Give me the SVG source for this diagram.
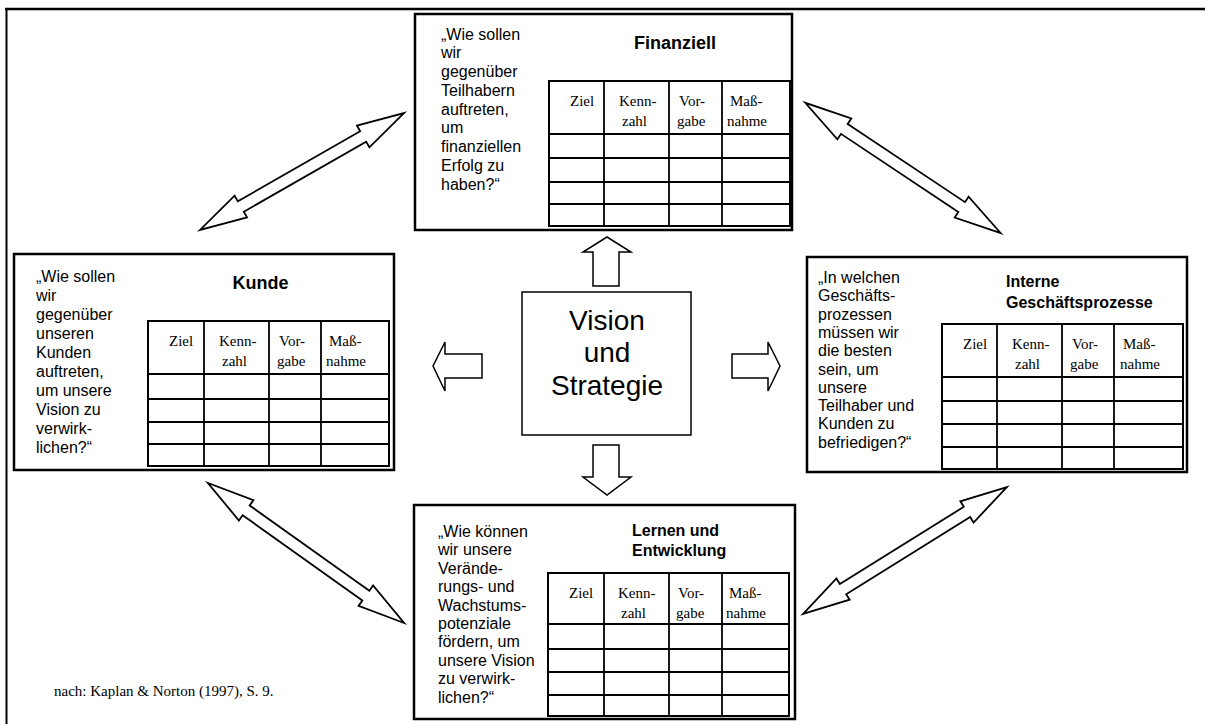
<svg xmlns="http://www.w3.org/2000/svg" width="1205" height="724" viewBox="0 0 1205 724">
<style>
.bg{fill:#fff}
.frame{stroke:#000;fill:none}
.box{fill:#fff;stroke:#000;stroke-width:2.5}
.tbl{fill:none;stroke:#000;stroke-width:2}
.tl{stroke:#000;stroke-width:1.8}
.q{font-family:"Liberation Sans",Arial,sans-serif;font-size:16px;fill:#000}
.t18{font-family:"Liberation Sans",Arial,sans-serif;font-size:18px;font-weight:bold;fill:#000}
.t16{font-family:"Liberation Sans",Arial,sans-serif;font-size:16px;font-weight:bold;fill:#000}
.h{font-family:"Liberation Serif","Times New Roman",serif;font-size:15px;fill:#000}
.vs{font-family:"Liberation Sans",Arial,sans-serif;font-size:28px;fill:#000}
.ft{font-family:"Liberation Serif","Times New Roman",serif;font-size:15px;fill:#000}
.ba{fill:#fff;stroke:#000;stroke-width:1.5;stroke-linejoin:miter}
.da{fill:#fff;stroke:#000;stroke-width:1.8;stroke-linejoin:miter}
.cbox{fill:#fff;stroke:#000;stroke-width:1.5}
</style>
<rect class="bg" x="0" y="0" width="1205" height="724"/>
<g id="frame">
<line class="frame" x1="5" y1="9" x2="1205" y2="9" stroke-width="2.5"/>
<line class="frame" x1="6.5" y1="8" x2="6.5" y2="724" stroke-width="2"/>
</g>

<g id="connectors">
<polygon class="ba" points="593,286 593,252 583,252 607,237 631,252 619,252 619,286"/>
<polygon class="ba" points="593,445 593,477 583,477 607,495 631,477 619,477 619,445"/>
<polygon class="ba" points="482,354 445,354 445,342 433,366 445,391 445,378 482,378"/>
<polygon class="ba" points="732,354 768,354 768,342 780,366 768,391 768,378 732,378"/>
<polygon class="da" transform="translate(302,171.5) rotate(-29.8)" points="117.5,0 70.5,12.5 70.5,6 -70.5,6 -70.5,12.5 -117.5,0 -70.5,-12.5 -70.5,-6 70.5,-6 70.5,-12.5"/>
<polygon class="da" transform="translate(903,168) rotate(33.7)" points="117.5,0 70.5,12.5 70.5,6 -70.5,6 -70.5,12.5 -117.5,0 -70.5,-12.5 -70.5,-6 70.5,-6 70.5,-12.5"/>
<polygon class="da" transform="translate(306,553) rotate(35.5)" points="120.5,0 73.5,12.5 73.5,6 -73.5,6 -73.5,12.5 -120.5,0 -73.5,-12.5 -73.5,-6 73.5,-6 73.5,-12.5"/>
<polygon class="da" transform="translate(905,550.5) rotate(-31.9)" points="120,0 73,12.5 73,6 -73,6 -73,12.5 -120,0 -73,-12.5 -73,-6 73,-6 73,-12.5"/>
</g>

<g id="node-finanziell">
<rect class="box" x="415" y="14" width="377" height="216"/>
<text class="q" x="441" y="39.5"><tspan x="441">„Wie sollen</tspan><tspan x="441" dy="18.75">wir</tspan><tspan x="441" dy="18.75">gegenüber</tspan><tspan x="441" dy="18.75">Teilhabern</tspan><tspan x="441" dy="18.75">auftreten,</tspan><tspan x="441" dy="18.75">um</tspan><tspan x="441" dy="18.75">finanziellen</tspan><tspan x="441" dy="18.75">Erfolg zu</tspan><tspan x="441" dy="18.75">haben?“</tspan></text>
<text class="t18" x="675" y="49" text-anchor="middle">Finanziell</text>
<rect class="tbl" x="549" y="81" width="241" height="145"/>
<line class="tl" x1="549" y1="134" x2="790" y2="134"/>
<line class="tl" x1="549" y1="158" x2="790" y2="158"/>
<line class="tl" x1="549" y1="182" x2="790" y2="182"/>
<line class="tl" x1="549" y1="204" x2="790" y2="204"/>
<line class="tl" x1="604" y1="81" x2="604" y2="226"/>
<line class="tl" x1="669" y1="81" x2="669" y2="226"/>
<line class="tl" x1="722" y1="81" x2="722" y2="226"/>
<text class="h" x="570" y="106">Ziel</text>
<text class="h" x="619" y="106">Kenn-</text><text class="h" x="622" y="126">zahl</text>
<text class="h" x="679" y="106">Vor-</text><text class="h" x="677" y="126">gabe</text>
<text class="h" x="730" y="106">Maß-</text><text class="h" x="727" y="126">nahme</text>
</g>

<g id="node-kunde">
<rect class="box" x="14" y="254" width="380" height="216"/>
<text class="q" x="36" y="281.5"><tspan x="36">„Wie sollen</tspan><tspan x="36" dy="19">wir</tspan><tspan x="36" dy="19">gegenüber</tspan><tspan x="36" dy="19">unseren</tspan><tspan x="36" dy="19">Kunden</tspan><tspan x="36" dy="19">auftreten,</tspan><tspan x="36" dy="19">um unsere</tspan><tspan x="36" dy="19">Vision zu</tspan><tspan x="36" dy="19">verwirk-</tspan><tspan x="36" dy="19">lichen?“</tspan></text>
<text class="t18" x="260.5" y="289" text-anchor="middle">Kunde</text>
<rect class="tbl" x="148" y="321" width="241" height="145"/>
<line class="tl" x1="148" y1="374" x2="389" y2="374"/>
<line class="tl" x1="148" y1="399" x2="389" y2="399"/>
<line class="tl" x1="148" y1="422" x2="389" y2="422"/>
<line class="tl" x1="148" y1="444" x2="389" y2="444"/>
<line class="tl" x1="204" y1="321" x2="204" y2="466"/>
<line class="tl" x1="269" y1="321" x2="269" y2="466"/>
<line class="tl" x1="321" y1="321" x2="321" y2="466"/>
<text class="h" x="169" y="346">Ziel</text>
<text class="h" x="219" y="346">Kenn-</text><text class="h" x="222" y="366">zahl</text>
<text class="h" x="279" y="346">Vor-</text><text class="h" x="277" y="366">gabe</text>
<text class="h" x="329" y="346">Maß-</text><text class="h" x="326" y="366">nahme</text>
</g>

<g id="node-intern">
<rect class="box" x="807" y="257" width="380" height="215"/>
<text class="q" x="818" y="283"><tspan x="818">„In welchen</tspan><tspan x="818" dy="18.3">Geschäfts-</tspan><tspan x="818" dy="18.3">prozessen</tspan><tspan x="818" dy="18.3">müssen wir</tspan><tspan x="818" dy="18.3">die besten</tspan><tspan x="818" dy="18.3">sein, um</tspan><tspan x="818" dy="18.3">unsere</tspan><tspan x="818" dy="18.3">Teilhaber und</tspan><tspan x="818" dy="18.3">Kunden zu</tspan><tspan x="818" dy="18.3">befriedigen?“</tspan></text>
<text class="t16" x="1006" y="287"><tspan x="1006">Interne</tspan><tspan x="1006" dy="20.5">Geschäftsprozesse</tspan></text>
<rect class="tbl" x="942" y="324" width="241" height="145"/>
<line class="tl" x1="942" y1="377" x2="1183" y2="377"/>
<line class="tl" x1="942" y1="401" x2="1183" y2="401"/>
<line class="tl" x1="942" y1="424" x2="1183" y2="424"/>
<line class="tl" x1="942" y1="447" x2="1183" y2="447"/>
<line class="tl" x1="997" y1="324" x2="997" y2="469"/>
<line class="tl" x1="1062" y1="324" x2="1062" y2="469"/>
<line class="tl" x1="1114" y1="324" x2="1114" y2="469"/>
<text class="h" x="963" y="349">Ziel</text>
<text class="h" x="1012" y="349">Kenn-</text><text class="h" x="1015" y="369">zahl</text>
<text class="h" x="1072" y="349">Vor-</text><text class="h" x="1070" y="369">gabe</text>
<text class="h" x="1123" y="349">Maß-</text><text class="h" x="1120" y="369">nahme</text>
</g>

<g id="node-lernen">
<rect class="box" x="414" y="505" width="381" height="214"/>
<text class="q" x="438" y="537"><tspan x="438">„Wie können</tspan><tspan x="438" dy="18.4">wir unsere</tspan><tspan x="438" dy="18.4">Verände-</tspan><tspan x="438" dy="18.4">rungs- und</tspan><tspan x="438" dy="18.4">Wachstums-</tspan><tspan x="438" dy="18.4">potenziale</tspan><tspan x="438" dy="18.4">fördern, um</tspan><tspan x="438" dy="18.4">unsere Vision</tspan><tspan x="438" dy="18.4">zu verwirk-</tspan><tspan x="438" dy="18.4">lichen?“</tspan></text>
<text class="t16" x="632" y="536"><tspan x="632">Lernen und</tspan><tspan x="632" dy="20">Entwicklung</tspan></text>
<rect class="tbl" x="548" y="573" width="241" height="143"/>
<line class="tl" x1="548" y1="624" x2="789" y2="624"/>
<line class="tl" x1="548" y1="649" x2="789" y2="649"/>
<line class="tl" x1="548" y1="672" x2="789" y2="672"/>
<line class="tl" x1="548" y1="695" x2="789" y2="695"/>
<line class="tl" x1="604" y1="573" x2="604" y2="716"/>
<line class="tl" x1="669" y1="573" x2="669" y2="716"/>
<line class="tl" x1="722" y1="573" x2="722" y2="716"/>
<text class="h" x="569" y="598">Ziel</text>
<text class="h" x="618" y="598">Kenn-</text><text class="h" x="621" y="618">zahl</text>
<text class="h" x="678" y="598">Vor-</text><text class="h" x="676" y="618">gabe</text>
<text class="h" x="729" y="598">Maß-</text><text class="h" x="726" y="618">nahme</text>
</g>

<g id="node-vision">
<rect class="cbox" x="522" y="292" width="169" height="143"/>
<text class="vs" x="607" y="330" text-anchor="middle">Vision</text>
<text class="vs" x="607" y="362" text-anchor="middle">und</text>
<text class="vs" x="607" y="395" text-anchor="middle">Strategie</text>
</g>

<text class="ft" x="54" y="696">nach: Kaplan &amp; Norton (1997), S. 9.</text>
</svg>
